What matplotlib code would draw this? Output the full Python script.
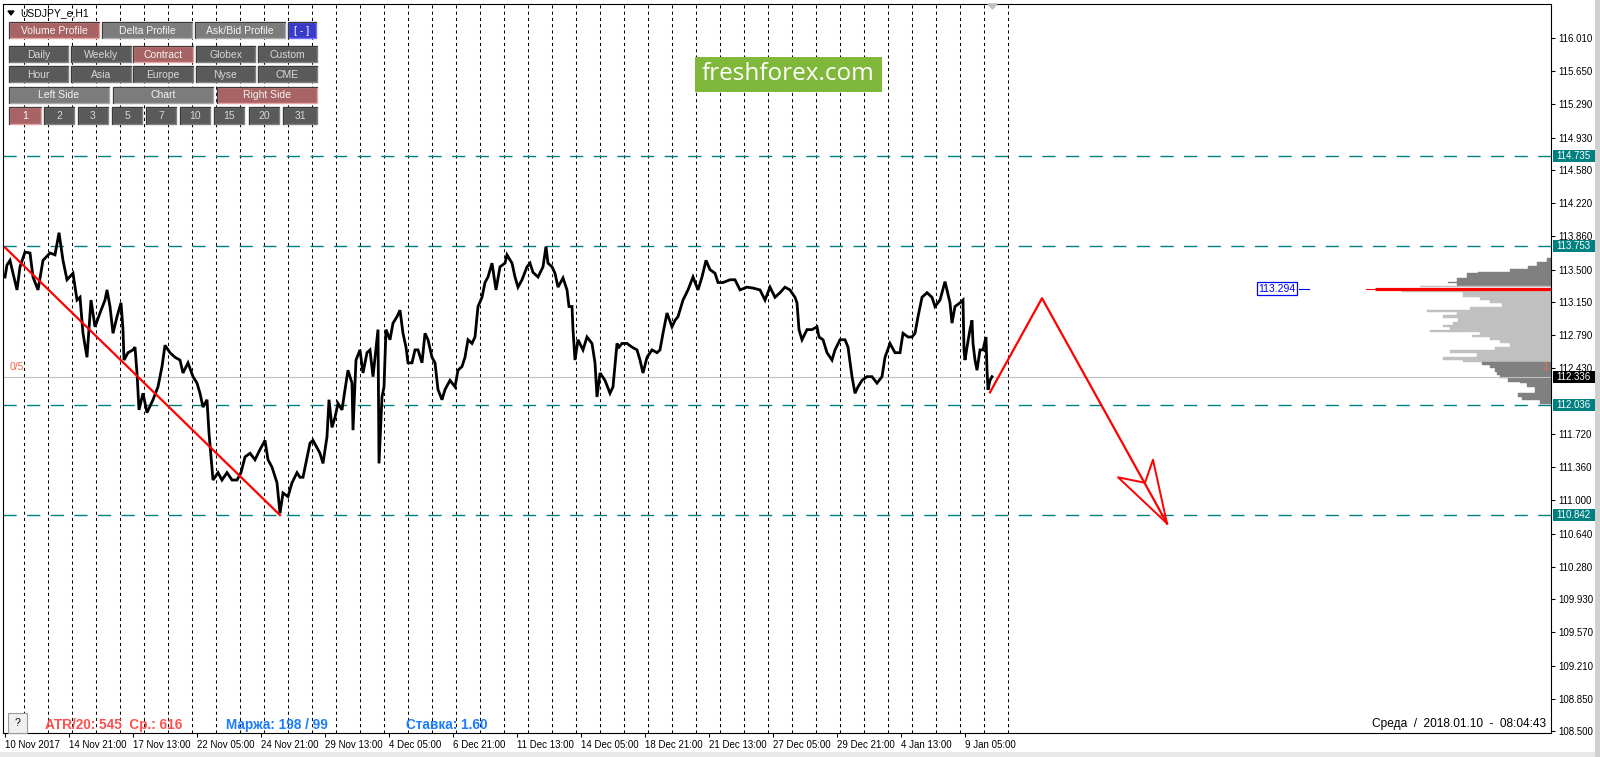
import matplotlib
matplotlib.use("Agg")
import matplotlib.pyplot as plt
from matplotlib.patches import Rectangle, Polygon
from matplotlib.transforms import blended_transform_factory
import numpy as np

plt.rcParams['font.family'] = ['Liberation Sans', 'DejaVu Sans']

# ---------------- data ----------------
# bar number (1 bar = 1 hour = 1 pixel; bar 5 = 10 Nov 2017 05:00)
bar_idx = [
    5, 7, 10, 13, 17, 20, 25, 30, 33, 38,
    43, 50, 55, 59, 63, 67, 73, 77, 80, 83,
    87, 91, 95, 100, 105, 107, 110, 113, 117, 121,
    123, 124, 128, 133, 135, 137, 139, 143, 147, 153,
    158, 162, 165, 170, 175, 180, 183, 188, 193, 197,
    200, 203, 207, 209, 213, 218, 222, 227, 232, 237,
    241, 245, 250, 255, 260, 265, 268, 272, 277, 280,
    283, 288, 292, 297, 300,
    303, 310, 313, 320, 323, 327, 329, 332, 335, 338,
    342, 345, 348, 352, 353, 356, 360, 363, 367, 370,
    373, 377, 378, 379, 382, 384, 386, 390, 393, 397,
    400, 403, 406, 408, 412, 415, 418, 422, 425, 428,
    432, 435, 438, 442, 445, 450, 455, 458, 462, 465,
    468, 472, 475, 478, 482, 485, 488, 492, 496, 500,
    505, 507, 512, 515, 518, 522, 527, 530, 533, 538,
    543, 546, 548, 552, 555, 558, 563, 567, 569, 572,
    573, 575, 578, 583, 587, 592, 595, 597, 600, 605,
    610, 613, 617, 619,
    622, 627, 632, 637, 640, 643, 647, 652, 657, 660,
    663, 667, 672, 675, 678, 683, 688, 693, 698, 702,
    706, 710, 715, 718, 723, 730, 735, 740, 747, 753,
    760, 765, 770, 775, 780, 785, 790, 795, 797, 799,
    802, 807, 812, 817, 819, 823, 827, 832, 835, 840,
    845, 848, 852, 855, 858, 862, 867, 872, 877, 882,
    885, 890, 895, 900, 903, 908, 912, 915, 918, 922,
    927, 932, 935,
    940, 945, 950, 952, 955, 960, 963, 964, 965, 967,
    970, 972, 973, 975, 977, 980, 983, 986, 987, 988,
    990, 992,
]
close_price = [
    113.42, 113.55, 113.60, 113.46, 113.28, 113.53, 113.69, 113.68, 113.42, 113.28,
    113.60, 113.68, 113.66, 113.90, 113.60, 113.39, 113.46, 113.17, 113.20, 112.81,
    112.55, 113.17, 112.88, 113.03, 113.17, 113.28, 113.10, 112.81, 112.99, 113.14,
    112.85, 112.52, 112.60, 112.63, 112.66, 112.38, 111.98, 112.16, 111.95, 112.09,
    112.23, 112.45, 112.68, 112.60, 112.55, 112.52, 112.38, 112.49, 112.34, 112.27,
    112.16, 112.01, 112.09, 111.73, 111.22, 111.30, 111.22, 111.30, 111.22, 111.22,
    111.30, 111.47, 111.51, 111.44, 111.55, 111.65, 111.44, 111.36, 111.19, 110.86,
    111.08, 111.04, 111.19, 111.30, 111.25,
    111.25, 111.62, 111.65, 111.51, 111.40, 111.69, 112.09, 111.79, 111.90, 112.05,
    111.98, 112.20, 112.41, 112.27, 111.76, 112.52, 112.63, 112.38, 112.60, 112.63,
    112.34, 112.74, 112.85, 111.40, 112.12, 112.23, 112.85, 112.74, 112.92, 112.99,
    113.06, 112.81, 112.66, 112.49, 112.49, 112.63, 112.63, 112.49, 112.81, 112.74,
    112.55, 112.49, 112.20, 112.09, 112.20, 112.30, 112.23, 112.41, 112.45, 112.55,
    112.74, 112.70, 112.77, 113.10, 113.20, 113.36, 113.42, 113.57, 113.28, 113.53,
    113.57, 113.66, 113.57, 113.42, 113.31, 113.39, 113.53, 113.57, 113.47, 113.42,
    113.53, 113.75, 113.57, 113.53, 113.46, 113.31, 113.41, 113.28, 113.10, 113.10,
    112.85, 112.52, 112.74, 112.63, 112.77, 112.70, 112.49, 112.12, 112.38, 112.30,
    112.16, 112.23, 112.70, 112.66,
    112.70, 112.70, 112.66, 112.63, 112.52, 112.38, 112.55, 112.63, 112.60, 112.63,
    112.81, 113.03, 112.88, 112.95, 112.99, 113.17, 113.28, 113.42, 113.28, 113.42,
    113.60, 113.50, 113.46, 113.36, 113.36, 113.39, 113.39, 113.28, 113.31, 113.30,
    113.28, 113.17, 113.31, 113.20, 113.25, 113.31, 113.28, 113.20, 113.14, 112.85,
    112.74, 112.85, 112.85, 112.88, 112.77, 112.74, 112.60, 112.52, 112.63, 112.74,
    112.74, 112.66, 112.34, 112.16, 112.23, 112.30, 112.34, 112.34, 112.27, 112.34,
    112.55, 112.70, 112.60, 112.60, 112.81, 112.77, 112.77, 112.81, 112.99, 113.20,
    113.25, 113.20, 113.10,
    113.17, 113.37, 113.14, 112.92, 113.10, 113.14, 113.17, 112.63, 112.52, 112.66,
    112.85, 112.95, 112.70, 112.52, 112.41, 112.63, 112.63, 112.77, 112.41, 112.20,
    112.30, 112.34,
]

trend_bars = [5, 280]
trend_prices = [113.74, 110.84]

forecast_bars = [990, 1042, 1167]
forecast_prices = [112.17, 113.19, 110.75]
arrow_bars = [1167, 1118, 1145, 1153, 1167]
arrow_prices = [110.75, 111.25, 111.19, 111.44, 110.75]

level_prices = [114.735, 113.753, 112.036, 110.842]
level_labels = ["114.735", "113.753", "112.036", "110.842"]
current_price = 112.336
poc_price = 113.294

# volume profile rows: edges (price, top to bottom) and row length (bars)
vp_edges = [113.626, 113.583, 113.539, 113.503, 113.478, 113.460, 113.406, 113.369,
            113.352, 113.326, 113.308, 113.279, 113.261, 113.207, 113.171, 113.135,
            113.098, 113.062, 113.044, 113.008, 112.973, 112.936, 112.900, 112.881,
            112.846, 112.827, 112.792, 112.767, 112.737, 112.702, 112.665, 112.629,
            112.593, 112.556, 112.521, 112.502, 112.466, 112.431, 112.394, 112.358,
            112.322, 112.285, 112.268, 112.231, 112.160, 112.123, 112.087, 112.044]
vp_len = [4, 14, 23, 41, 73, 84, 94, 103, 94, 131, 176, 149, 88, 71, 61, 49, 81, 124,
          94, 108, 93, 98, 108, 101, 121, 71, 79, 61, 51, 41, 56, 101, 74, 108, 88,
          69, 61, 56, 54, 51, 43, 31, 24, 16, 33, 29, 11]
va_high, va_low = 113.326, 112.502

ytick_vals = [116.010, 115.650, 115.290, 114.930, 114.580, 114.220, 113.860, 113.500,
              113.150, 112.790, 112.430, 111.720, 111.360, 111.000, 110.640, 110.280,
              109.930, 109.570, 109.210, 108.850, 108.500]
xtick_bars = [5, 69, 133, 197, 261, 325, 389, 453, 517, 581, 645, 709, 773, 837, 901, 965]
xtick_labels = ["10 Nov 2017", "14 Nov 21:00", "17 Nov 13:00", "22 Nov 05:00",
                "24 Nov 21:00", "29 Nov 13:00", "4 Dec 05:00", "6 Dec 21:00",
                "11 Dec 13:00", "14 Dec 05:00", "18 Dec 21:00", "21 Dec 13:00",
                "27 Dec 05:00", "29 Dec 21:00", "4 Jan 13:00", "9 Jan 05:00"]
day_separators = np.arange(24, 1009, 24)

# ---------------- figure ----------------
FW, FH = 1600, 757
fig = plt.figure(figsize=(16, 7.57), dpi=100, facecolor='white')
L, R, T, B = 3, 1551, 4, 733
YMIN, YMAX = 108.479, 116.378
ax = fig.add_axes([L / FW, 1 - B / FH, (R - L) / FW, (B - T) / FH])
ax.set_facecolor('white')
ax.set_xlim(L, R)
ax.set_ylim(YMIN, YMAX)

# day separators
ax.vlines(day_separators, YMIN, YMAX, colors='black', lw=0.75,
          linestyles=(0, (3, 3)), zorder=1)

# volume profile
for i, ln in enumerate(vp_len):
    top, bot = vp_edges[i], vp_edges[i + 1]
    mid = (top + bot) / 2
    if abs(mid - poc_price) < 0.02:
        continue
    col = '#c0c0c0' if va_low <= mid <= va_high else '#808080'
    ax.add_patch(Rectangle((R - ln, bot), ln, top - bot, facecolor=col,
                           edgecolor=col, lw=0.3, zorder=2))
ax.plot([1366, 1375], [poc_price, poc_price], color='red', lw=0.8, zorder=3)
ax.plot([1375, R], [poc_price, poc_price], color='red', lw=2.3, zorder=3,
        solid_capstyle='butt')
ax.plot([1299, 1309], [poc_price, poc_price], color='blue', lw=0.8, zorder=3)
ax.text(1277, poc_price, "113.294", ha='center', va='center', color='blue',
        fontsize=7.5, zorder=4,
        bbox=dict(boxstyle='square,pad=0.12', fc='white', ec='blue', lw=0.9))

# levels
ax.hlines(level_prices, L, R, colors='#008080', lw=1.0,
          linestyles=(0, (9.5, 7.5)), zorder=2)
ax.axhline(current_price, color='#c0c0c0', lw=0.8, zorder=2)

# price
ax.plot(bar_idx, close_price, color='black', lw=2.0, zorder=5,
        solid_joinstyle='miter')

# trend + forecast
ax.plot(trend_bars, trend_prices, color='red', lw=1.6, zorder=6)
ax.plot(forecast_bars, forecast_prices, color='red', lw=1.6, zorder=6)
ax.plot(arrow_bars, arrow_prices, color='red', lw=1.4, zorder=6)

ax.text(10, 112.445, "0/5", color='#f06a4a', fontsize=7.5, va='center', ha='left')
ax.text(1542, 112.445, "1", color='#f06a4a', fontsize=8, va='center', ha='left')

# axes styling
for s in ax.spines.values():
    s.set_linewidth(0.8)
    s.set_color('black')
ax.yaxis.tick_right()
ax.set_yticks(ytick_vals)
ax.set_yticklabels([f"{v:.3f}" for v in ytick_vals])
ax.tick_params(axis='y', direction='out', length=3, width=0.75, pad=2,
               labelsize=7, colors='black')
ax.set_xticks(xtick_bars)
ax.set_xticklabels(xtick_labels, ha='left')
ax.tick_params(axis='x', direction='out', length=3, width=0.75, pad=2,
               labelsize=7, colors='black')

# price labels on axis
bt = blended_transform_factory(ax.transAxes, ax.transData)
bx0 = (1553 - L) / (R - L)
bw = 42 / (R - L)
bh = 12 / 92.28
for p, lab in zip(level_prices, level_labels):
    ax.add_patch(Rectangle((bx0, p - bh / 2), bw, bh, transform=bt, clip_on=False,
                           facecolor='#008080', edgecolor='none', zorder=20))
    ax.text(bx0 + 3 / (R - L), p, lab, transform=bt, color='white', fontsize=7,
            va='center', ha='left', zorder=21, clip_on=False)
ax.add_patch(Rectangle((bx0, current_price - bh / 2), bw, bh, transform=bt,
                       clip_on=False, facecolor='black', edgecolor='none', zorder=20))
ax.text(bx0 + 3 / (R - L), current_price, f"{current_price:.3f}", transform=bt,
        color='white', fontsize=7, va='center', ha='left', zorder=21, clip_on=False)

# ---------------- UI overlay (pixel coordinates) ----------------
ui = fig.add_axes([0, 0, 1, 1], zorder=10)
ui.set_xlim(0, FW)
ui.set_ylim(FH, 0)
ui.axis('off')
ui.patch.set_alpha(0)

ui.add_patch(Rectangle((1595, 0), 5, FH, facecolor='#d0d0d0', edgecolor='none'))
ui.add_patch(Rectangle((0, 752), 1595, 5, facecolor='#e8e8e8', edgecolor='none'))

# title
ui.add_patch(Polygon([(8, 11), (14, 11), (11, 15)], closed=True, color='black'))
ui.text(20, 13, "USDJPY_e,H1", fontsize=7.5, va='center', ha='left', color='black')

styles = {
    'red': ('#a86464', '#e6a4a4', '#f4f4f4'),
    'gray': ('#7c7c7c', '#a8a8a8', '#f4f4f4'),
    'dark': ('#5a5a5a', '#808080', '#d8d8d8'),
    'blue': ('#3a3ac8', '#7070ff', '#ffffff'),
}


def button(x0, y0, x1, y1, label, kind):
    fc, ec, tc = styles[kind]
    ui.add_patch(Rectangle((x0, y0), x1 - x0, y1 - y0, facecolor=fc,
                           edgecolor=ec, lw=1.0))
    ui.plot([x0, x0, x1], [y1, y0, y0], color='#3a3a3a', lw=0.8)
    ui.text((x0 + x1) / 2, (y0 + y1) / 2 + 0.5, label, ha='center', va='center',
            color=tc, fontsize=7.5)


row1 = [(9, 99, "Volume Profile", 'red'), (102, 192, "Delta Profile", 'gray'),
        (195, 285, "Ask/Bid Profile", 'gray'), (288, 316, "[ - ]", 'blue')]
for x0, x1, lab, k in row1:
    button(x0, 22, x1, 38, lab, k)
row2 = [(9, 68, "Daily", 'dark'), (71, 131, "Weekly", 'dark'),
        (133, 193, "Contract", 'red'), (196, 255, "Globex", 'dark'),
        (258, 317, "Custom", 'dark')]
for x0, x1, lab, k in row2:
    button(x0, 46, x1, 62, lab, k)
row3 = [(9, 68, "Hour", 'dark'), (71, 131, "Asia", 'dark'),
        (133, 193, "Europe", 'dark'), (196, 255, "Nyse", 'dark'),
        (258, 317, "CME", 'dark')]
for x0, x1, lab, k in row3:
    button(x0, 66, x1, 82, lab, k)
row4 = [(9, 109, "Left Side", 'gray'), (113, 213, "Chart", 'gray'),
        (217, 317, "Right Side", 'red')]
for x0, x1, lab, k in row4:
    button(x0, 87, x1, 103, lab, k)
row5 = [(9, 41, "1", 'red'), (44, 74, "2", 'dark'), (78, 108, "3", 'dark'),
        (112, 142, "5", 'dark'), (146, 176, "7", 'dark'), (180, 210, "10", 'dark'),
        (214, 244, "15", 'dark'), (249, 279, "20", 'dark'), (283, 317, "31", 'dark')]
for x0, x1, lab, k in row5:
    button(x0, 107, x1, 124, lab, k)

# logo
ui.add_patch(Rectangle((695, 57), 187, 35, facecolor='#7fb83a', edgecolor='none'))
ui.text(788.5, 74, "freshforex.com", color='white', fontsize=17.5, ha='center',
        va='center', family=['Open Sans', 'DejaVu Sans'])

# chart shift marker
ui.add_patch(Polygon([(988, 4), (997, 4), (992.5, 9)], closed=True, color='#c0c0c0'))

# bottom info
ui.add_patch(Rectangle((8, 713), 19, 20, facecolor='#f0f0f0', edgecolor='#9a9a9a', lw=0.8))
ui.text(17.5, 723, "?", ha='center', va='center', fontsize=7.5, color='black')
ui.text(45, 725, "ATR/20: 545  Ср.: 616", color='#ff5050', fontsize=9.8,
        weight='bold', va='center', ha='left')
ui.text(226, 725, "Маржа: 198 / 99", color='#1c7cff', fontsize=9.8,
        weight='bold', va='center', ha='left')
ui.text(406, 725, "Ставка: 1.60", color='#1c7cff', fontsize=9.8,
        weight='bold', va='center', ha='left')
ui.text(1546, 724, "Среда  /  2018.01.10  -  08:04:43", color='black', fontsize=8.6,
        va='center', ha='right')

fig.savefig("out.png", dpi=100, facecolor='white')
